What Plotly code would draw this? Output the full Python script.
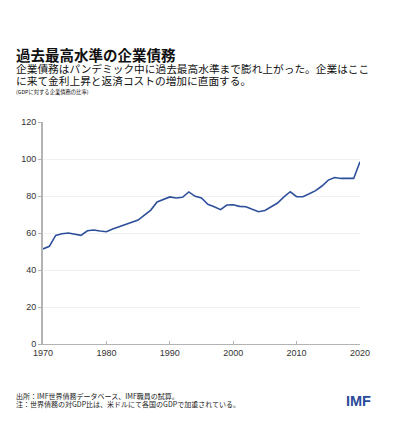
import plotly.graph_objects as go

# corporate debt as % of GDP
years = list(range(1970, 2021))
debt_ratio = [
    51.4, 52.8, 58.7, 59.6, 60.0, 59.5, 58.7, 61.2, 61.6, 61.1,
    60.7, 62.2, 63.4, 64.3, 65.7, 67.0, 69.7, 72.4, 76.8, 78.0,
    79.5, 78.9, 79.3, 82.2, 79.8, 78.9, 75.5, 74.2, 72.6, 75.1,
    75.3, 74.4, 74.2, 72.8, 71.5, 72.2, 74.4, 76.2, 79.5, 82.3,
    79.6, 79.6, 81.2, 82.9, 85.4, 88.6, 90.0, 89.5, 89.5, 89.5,
    98.5,
]
y_ticks = [0, 20, 40, 60, 80, 100, 120]
x_ticks = [1970, 1980, 1990, 2000, 2010, 2020]

title = "過去最高水準の企業債務"
subtitle_1 = "企業債務はパンデミック中に過去最高水準まで膨れ上がった。企業はここ"
subtitle_2 = "に来て金利上昇と返済コストの増加に直面する。"
unit_note = "(GDPに対する企業債務の比率)"
source_note = "出所：IMF世界債務データベース、IMF職員の試算。"
footnote = "注：世界債務の対GDP比は、米ドルにて各国のGDPで加重されている。"

JP = "Noto Sans CJK JP"
LATIN = "Arial, Liberation Sans, sans-serif"

# the page body adds an 8px margin, so work in screen pixels and shift back
PAD = 8
W, H = 415 - PAD, 428 - PAD
TOP, BOTTOM = 122 - PAD, 344 - PAD
LEFT, RIGHT = 43 - PAD, 360 - PAD


def py(screen_y):
    """screen pixel row -> paper y"""
    return (BOTTOM - (screen_y - PAD)) / (BOTTOM - TOP)


def px(screen_x):
    return ((screen_x - PAD) - LEFT) / (RIGHT - LEFT)


fig = go.Figure()
fig.add_trace(go.Scatter(
    x=years, y=debt_ratio, mode="lines",
    line=dict(color="#2e509b", width=1.6),
    hoverinfo="skip",
))

fig.update_xaxes(
    range=[1970, 2020], tickvals=x_ticks,
    showgrid=False, showline=True, linecolor="#b3b3b3", linewidth=1,
    ticks="inside", ticklen=3, tickcolor="#b3b3b3",
    tickfont=dict(family=LATIN, size=9, color="#333333"),
    zeroline=False,
)
fig.update_yaxes(
    range=[0, 120], tickvals=y_ticks,
    showgrid=True, gridcolor="#f0f0f0", gridwidth=1,
    showline=True, linecolor="#b3b3b3", linewidth=2,
    ticks="outside", ticklen=3, tickcolor="#b3b3b3",
    tickfont=dict(family=LATIN, size=9, color="#333333"),
    zeroline=False,
)

texts = [
    (title, 54, 14.5, "#111111", True),
    (subtitle_1, 68.5, 10.7, "#111111", False),
    (subtitle_2, 80.5, 10.7, "#111111", False),
    (unit_note, 92.5, 5.3, "#111111", False),
    (source_note, 395.5, 7, "#222222", False),
    (footnote, 404, 7, "#222222", False),
]
for txt, row, size, color, bold in texts:
    fig.add_annotation(
        text=f"<b>{txt}</b>" if bold else txt,
        xref="paper", yref="paper", x=px(14), y=py(row),
        xanchor="left", yanchor="middle", showarrow=False,
        font=dict(family=JP, size=size, color=color),
    )

fig.add_annotation(
    text="<b>IMF</b>", xref="paper", yref="paper",
    x=px(358), y=py(401), xanchor="center", yanchor="middle",
    showarrow=False,
    font=dict(family=LATIN, size=14.5, color="#2a4b9b"),
)

fig.update_layout(
    width=W, height=H,
    margin=dict(l=LEFT, r=W - RIGHT, t=TOP, b=H - BOTTOM),
    paper_bgcolor="white", plot_bgcolor="white",
    showlegend=False,
)

fig.write_html("out.html")
